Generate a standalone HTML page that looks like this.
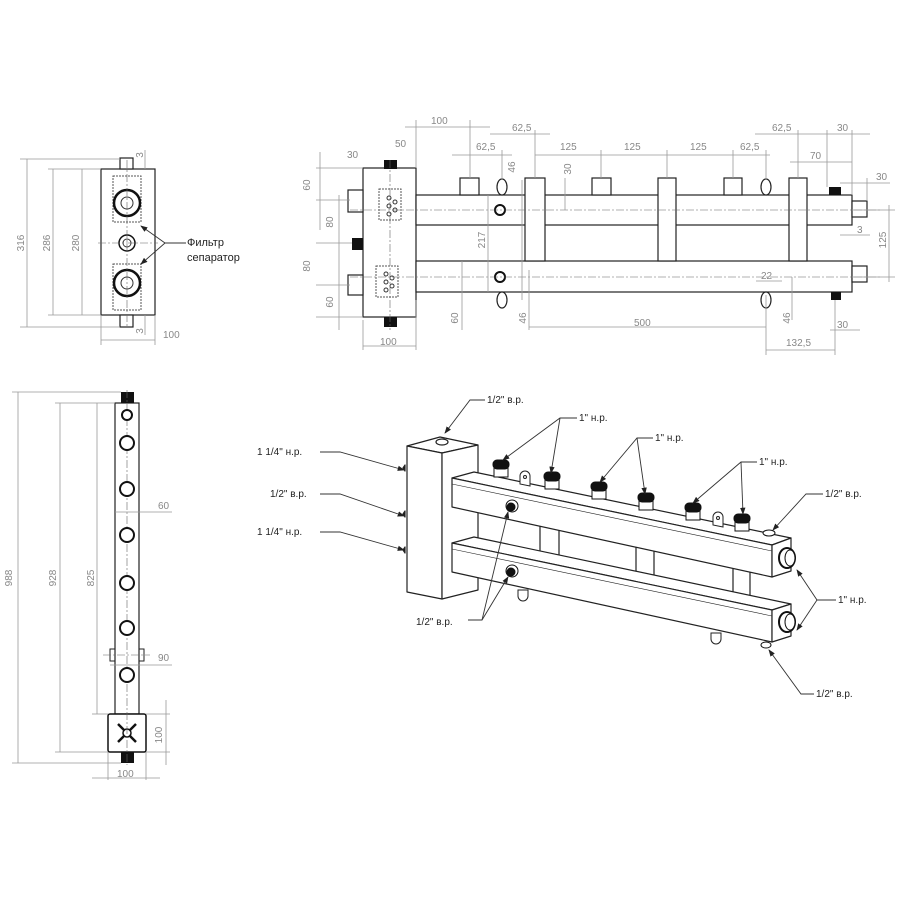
<!DOCTYPE html>
<html><head><meta charset="utf-8"><style>
html,body{margin:0;padding:0;background:#fff}
svg{display:block}
.d{stroke:#999;stroke-width:0.8;fill:none}
.dt{font-family:"Liberation Sans",sans-serif;font-size:10px;fill:#888}
.l{stroke:#222;stroke-width:1.2;fill:#fff}
.k{stroke:#222;stroke-width:1;fill:none}
.c{stroke:#666;stroke-width:0.6;fill:none;stroke-dasharray:8 2 2 2}
.lb{font-family:"Liberation Sans","DejaVu Sans",sans-serif;font-size:10px;fill:#222}
.ld{stroke:#333;stroke-width:0.9;fill:none}
</style></head><body>
<svg width="900" height="900" viewBox="0 0 900 900" xmlns="http://www.w3.org/2000/svg">
<defs><marker id="a" markerWidth="8" markerHeight="6" refX="7" refY="3" orient="auto"><path d="M0,0 L8,3 L0,6 z" fill="#222"/></marker></defs>

<!-- ===== Top-left view ===== -->
<rect x="101" y="169" width="54" height="146" class="l"/>
<rect x="120" y="158" width="13" height="11" class="l"/>
<rect x="120" y="315" width="13" height="12" class="l"/>
<rect x="113" y="176" width="28" height="46" fill="none" stroke="#555" stroke-dasharray="2 1"/>
<rect x="113" y="264" width="28" height="46" fill="none" stroke="#555" stroke-dasharray="2 1"/>
<circle cx="127" cy="203" r="13" fill="none" stroke="#111" stroke-width="2.5"/>
<circle cx="127" cy="203" r="6" fill="none" stroke="#333"/>
<circle cx="127" cy="283" r="13" fill="none" stroke="#111" stroke-width="2.5"/>
<circle cx="127" cy="283" r="6" fill="none" stroke="#333"/>
<circle cx="127" cy="243" r="8" fill="none" stroke="#111" stroke-width="1.5"/>
<circle cx="127" cy="243" r="4" fill="none" stroke="#333"/>
<line x1="98" y1="243" x2="158" y2="243" class="c"/>
<line x1="127" y1="160" x2="127" y2="327" class="c"/>
<line x1="20" y1="159" x2="120" y2="159" class="d"/><line x1="20" y1="327" x2="120" y2="327" class="d"/>
<line x1="27" y1="159" x2="27" y2="327" class="d"/>
<line x1="48" y1="169" x2="101" y2="169" class="d"/><line x1="48" y1="315" x2="101" y2="315" class="d"/>
<line x1="53" y1="169" x2="53" y2="315" class="d"/><line x1="82" y1="169" x2="82" y2="315" class="d"/>
<line x1="145" y1="150" x2="145" y2="169" class="d"/><line x1="145" y1="315" x2="145" y2="335" class="d"/>
<line x1="101" y1="340" x2="155" y2="340" class="d"/><line x1="101" y1="315" x2="101" y2="345" class="d"/><line x1="155" y1="315" x2="155" y2="345" class="d"/>
<text class="dt" transform="translate(24,243) rotate(-90)" text-anchor="middle">316</text>
<text class="dt" transform="translate(50,243) rotate(-90)" text-anchor="middle">286</text>
<text class="dt" transform="translate(79,243) rotate(-90)" text-anchor="middle">280</text>
<text class="dt" transform="translate(143,155) rotate(-90)" text-anchor="middle">3</text>
<text class="dt" transform="translate(143,331) rotate(-90)" text-anchor="middle">3</text>
<text class="dt" x="163" y="338">100</text>
<line x1="165" y1="243" x2="141" y2="226" class="ld" marker-end="url(#a)"/>
<line x1="165" y1="243" x2="141" y2="264" class="ld" marker-end="url(#a)"/>
<line x1="165" y1="243" x2="186" y2="243" class="ld"/>
<text class="lb" x="187" y="246" style="font-size:11px">Фильтр</text>
<text class="lb" x="187" y="261" style="font-size:11px">сепаратор</text>

<!-- ===== Top-right view ===== -->
<rect x="363" y="168" width="53" height="149" class="l"/>
<rect x="384" y="160" width="13" height="9" fill="#111"/>
<rect x="384" y="317" width="13" height="10" fill="#111"/>
<rect x="348" y="190" width="15" height="22" class="l"/>
<rect x="352" y="238" width="11" height="12" fill="#111"/>
<rect x="348" y="275" width="15" height="20" class="l"/>
<rect x="379" y="189" width="22" height="31" fill="none" stroke="#555" stroke-dasharray="2 1"/>
<rect x="376" y="266" width="22" height="31" fill="none" stroke="#555" stroke-dasharray="2 1"/>
<g fill="none" stroke="#333"><circle cx="389" cy="198" r="2"/><circle cx="395" cy="202" r="2"/><circle cx="389" cy="206" r="2"/><circle cx="395" cy="210" r="2"/><circle cx="389" cy="214" r="2"/>
<circle cx="386" cy="274" r="2"/><circle cx="392" cy="278" r="2"/><circle cx="386" cy="282" r="2"/><circle cx="392" cy="286" r="2"/><circle cx="386" cy="290" r="2"/></g>
<rect x="416" y="195" width="436" height="30" class="l"/>
<rect x="416" y="261" width="436" height="31" class="l"/>
<rect x="852" y="201" width="15" height="16" class="l"/>
<rect x="852" y="266" width="15" height="16" class="l"/>
<rect x="460" y="178" width="19" height="17" class="l"/>
<rect x="592" y="178" width="19" height="17" class="l"/>
<rect x="724" y="178" width="18" height="17" class="l"/>
<rect x="525" y="178" width="20" height="83" class="l"/>
<rect x="658" y="178" width="18" height="83" class="l"/>
<rect x="789" y="178" width="18" height="83" class="l"/>
<rect x="829" y="187" width="12" height="8" fill="#111"/>
<rect x="831" y="292" width="10" height="8" fill="#111"/>
<ellipse cx="502" cy="187" rx="5" ry="8" class="l"/><ellipse cx="766" cy="187" rx="5" ry="8" class="l"/>
<ellipse cx="502" cy="300" rx="5" ry="8" class="l"/><ellipse cx="766" cy="300" rx="5" ry="8" class="l"/>
<circle cx="500" cy="210" r="5" fill="none" stroke="#111" stroke-width="2"/>
<circle cx="500" cy="277" r="5" fill="none" stroke="#111" stroke-width="2"/>
<line x1="350" y1="210" x2="880" y2="210" class="c"/>
<line x1="350" y1="277" x2="880" y2="277" class="c"/>
<line x1="390" y1="160" x2="390" y2="330" class="c"/>
<g class="d">
<line x1="316" y1="168" x2="363" y2="168"/><line x1="316" y1="200" x2="350" y2="200"/><line x1="316" y1="243" x2="352" y2="243"/><line x1="316" y1="285" x2="350" y2="285"/><line x1="316" y1="317" x2="363" y2="317"/>
<line x1="320" y1="152" x2="320" y2="230"/><line x1="339" y1="195" x2="339" y2="330"/>
<line x1="363" y1="320" x2="363" y2="350"/><line x1="416" y1="300" x2="416" y2="350"/><line x1="363" y1="346" x2="416" y2="346"/>
<line x1="405" y1="127" x2="490" y2="127"/><line x1="416" y1="120" x2="416" y2="168"/><line x1="470" y1="120" x2="470" y2="178"/>
<line x1="490" y1="134" x2="550" y2="134"/><line x1="535" y1="130" x2="535" y2="178"/>
<line x1="452" y1="155" x2="512" y2="155"/><line x1="502" y1="150" x2="502" y2="180"/>
<line x1="535" y1="155" x2="770" y2="155"/><line x1="601" y1="150" x2="601" y2="178"/><line x1="667" y1="150" x2="667" y2="178"/><line x1="733" y1="150" x2="733" y2="178"/><line x1="766" y1="150" x2="766" y2="180"/>
<line x1="755" y1="134" x2="870" y2="134"/><line x1="798" y1="130" x2="798" y2="178"/><line x1="827" y1="130" x2="827" y2="187"/><line x1="852" y1="130" x2="852" y2="195"/>
<line x1="790" y1="162" x2="852" y2="162"/>
<line x1="840" y1="183" x2="890" y2="183"/><line x1="867" y1="178" x2="867" y2="201"/>
<line x1="840" y1="235" x2="870" y2="235"/>
<line x1="852" y1="210" x2="895" y2="210"/><line x1="852" y1="277" x2="895" y2="277"/><line x1="889" y1="205" x2="889" y2="282"/>
<line x1="488" y1="195" x2="488" y2="292"/><line x1="522" y1="180" x2="522" y2="300"/>
<line x1="462" y1="261" x2="462" y2="330"/><line x1="529" y1="270" x2="529" y2="330"/><line x1="529" y1="327" x2="766" y2="327"/><line x1="766" y1="295" x2="766" y2="355"/>
<line x1="756" y1="281" x2="782" y2="281"/><line x1="792" y1="277" x2="792" y2="320"/>
<line x1="766" y1="350" x2="835" y2="350"/><line x1="835" y1="300" x2="835" y2="355"/><line x1="830" y1="330" x2="860" y2="330"/>
<line x1="565" y1="178" x2="565" y2="210"/>
</g>
<g class="dt">
<text x="431" y="124">100</text><text x="512" y="131">62,5</text><text x="476" y="150">62,5</text>
<text x="560" y="150">125</text><text x="624" y="150">125</text><text x="690" y="150">125</text><text x="740" y="150">62,5</text>
<text x="772" y="131">62,5</text><text x="837" y="131">30</text><text x="810" y="159">70</text><text x="876" y="180">30</text>
<text x="347" y="158">30</text><text x="395" y="147">50</text><text x="857" y="233">3</text><text x="761" y="279">22</text>
<text x="634" y="326">500</text><text x="837" y="328">30</text><text x="786" y="346">132,5</text><text x="380" y="345">100</text>
<text transform="translate(310,185) rotate(-90)" text-anchor="middle">60</text>
<text transform="translate(333,222) rotate(-90)" text-anchor="middle">80</text>
<text transform="translate(310,266) rotate(-90)" text-anchor="middle">80</text>
<text transform="translate(333,302) rotate(-90)" text-anchor="middle">60</text>
<text transform="translate(515,167) rotate(-90)" text-anchor="middle">46</text>
<text transform="translate(571,169) rotate(-90)" text-anchor="middle">30</text>
<text transform="translate(485,240) rotate(-90)" text-anchor="middle">217</text>
<text transform="translate(886,240) rotate(-90)" text-anchor="middle">125</text>
<text transform="translate(458,318) rotate(-90)" text-anchor="middle">60</text>
<text transform="translate(526,318) rotate(-90)" text-anchor="middle">46</text>
<text transform="translate(790,318) rotate(-90)" text-anchor="middle">46</text>
</g>

<!-- ===== Bottom-left view ===== -->
<rect x="115" y="403" width="24" height="311" class="l"/>
<rect x="121" y="392" width="13" height="11" fill="#111"/>
<rect x="108" y="714" width="38" height="38" rx="2" fill="#fff" stroke="#111" stroke-width="1.5"/>
<rect x="121" y="752" width="13" height="11" fill="#111"/>
<line x1="118" y1="724" x2="136" y2="742" stroke="#111" stroke-width="2.5"/><line x1="136" y1="724" x2="118" y2="742" stroke="#111" stroke-width="2.5"/>
<circle cx="127" cy="733" r="4" fill="#fff" stroke="#111" stroke-width="1.5"/>
<line x1="127" y1="390" x2="127" y2="765" class="c"/>
<g fill="#fff" stroke="#111" stroke-width="2"><circle cx="127" cy="415" r="5"/><circle cx="127" cy="443" r="7"/><circle cx="127" cy="489" r="7"/><circle cx="127" cy="535" r="7"/><circle cx="127" cy="583" r="7"/><circle cx="127" cy="628" r="7"/><circle cx="127" cy="675" r="7"/></g>
<rect x="110" y="649" width="5" height="12" class="k"/><rect x="139" y="649" width="5" height="12" class="k"/>
<line x1="103" y1="655" x2="150" y2="655" class="c"/>
<g class="d">
<line x1="12" y1="392" x2="121" y2="392"/><line x1="12" y1="763" x2="121" y2="763"/><line x1="18" y1="392" x2="18" y2="763"/>
<line x1="55" y1="403" x2="115" y2="403"/><line x1="55" y1="752" x2="108" y2="752"/><line x1="60" y1="403" x2="60" y2="752"/>
<line x1="97" y1="403" x2="97" y2="714"/><line x1="92" y1="714" x2="108" y2="714"/>
<line x1="115" y1="512" x2="172" y2="512"/><line x1="110" y1="665" x2="172" y2="665"/>
<line x1="146" y1="714" x2="170" y2="714"/><line x1="146" y1="752" x2="170" y2="752"/><line x1="166" y1="700" x2="166" y2="765"/>
<line x1="108" y1="752" x2="108" y2="780"/><line x1="146" y1="752" x2="146" y2="780"/><line x1="92" y1="778" x2="160" y2="778"/>
</g>
<g class="dt">
<text transform="translate(12,578) rotate(-90)" text-anchor="middle">988</text>
<text transform="translate(56,578) rotate(-90)" text-anchor="middle">928</text>
<text transform="translate(94,578) rotate(-90)" text-anchor="middle">825</text>
<text x="158" y="509">60</text><text x="158" y="661">90</text>
<text transform="translate(162,735) rotate(-90)" text-anchor="middle">100</text>
<text x="117" y="777">100</text>
</g>

<!-- ===== Isometric view ===== -->
<g stroke="#222" stroke-width="1.2" stroke-linejoin="round">
<polygon points="407,446 440,437 478,445 442,453" fill="#fff"/>
<polygon points="407,446 442,453 442,599 407,592" fill="#fff"/>
<polygon points="442,453 478,445 478,590 442,599" fill="#fff"/>
<ellipse cx="442" cy="442" rx="6" ry="3" fill="#fff"/>
<path d="M405,465 l-2,3 l2,3 z M405,511 l-2,3 l2,3 z M405,547 l-2,3 l2,3 z" fill="#111"/>
<!-- connectors between pipes -->
<rect x="540" y="524" width="19" height="34" fill="#fff"/>
<rect x="636" y="545" width="18" height="34" fill="#fff"/>
<rect x="733" y="566" width="17" height="36" fill="#fff"/>
<!-- lower pipe -->
<polygon points="452,543 474,537 791,604 772,610" fill="#fff"/>
<polygon points="452,543 772,610 772,642 452,572" fill="#fff"/>
<polygon points="772,610 791,604 791,636 772,642" fill="#fff"/>
<line x1="452" y1="549" x2="772" y2="616" stroke-width="0.6"/>
<!-- upper pipe -->
<polygon points="452,478 474,472 791,538 772,545" fill="#fff"/>
<polygon points="452,478 772,545 772,577 452,507" fill="#fff"/>
<polygon points="772,545 791,538 791,571 772,577" fill="#fff"/>
<line x1="452" y1="484" x2="772" y2="551" stroke-width="0.6"/>
</g>
<g stroke="#222" stroke-width="1">
<path d="M520,484 v-8 a5,5 0 0 1 10,0 v10 z" fill="#fff"/><circle cx="525" cy="477" r="1.5" fill="none"/>
<path d="M713,525 v-8 a5,5 0 0 1 10,0 v10 z" fill="#fff"/><circle cx="718" cy="518" r="1.5" fill="none"/>
<path d="M518,590 v6 a5,5 0 0 0 10,0 v-6 z" fill="#fff"/>
<path d="M711,633 v6 a5,5 0 0 0 10,0 v-6 z" fill="#fff"/>
</g>
<g stroke="#111" stroke-width="1">
<rect x="494" y="465" width="14" height="12" fill="#fff"/><rect x="493" y="460" width="16" height="9" rx="4" fill="#111"/>
<rect x="545" y="477" width="14" height="12" fill="#fff"/><rect x="544" y="472" width="16" height="9" rx="4" fill="#111"/>
<rect x="592" y="487" width="14" height="12" fill="#fff"/><rect x="591" y="482" width="16" height="9" rx="4" fill="#111"/>
<rect x="639" y="498" width="14" height="12" fill="#fff"/><rect x="638" y="493" width="16" height="9" rx="4" fill="#111"/>
<rect x="686" y="508" width="14" height="12" fill="#fff"/><rect x="685" y="503" width="16" height="9" rx="4" fill="#111"/>
<rect x="735" y="519" width="14" height="12" fill="#fff"/><rect x="734" y="514" width="16" height="9" rx="4" fill="#111"/>
<ellipse cx="769" cy="533" rx="6" ry="3" fill="#fff"/>
<ellipse cx="766" cy="645" rx="5" ry="3" fill="#fff"/>
<circle cx="512" cy="506" r="6" fill="#fff"/><circle cx="511" cy="507" r="4" fill="#111"/>
<circle cx="512" cy="571" r="6" fill="#fff"/><circle cx="511" cy="572" r="4" fill="#111"/>
<ellipse cx="787" cy="558" rx="8" ry="10" fill="#fff" stroke-width="2"/><ellipse cx="790" cy="558" rx="5" ry="8" fill="#fff"/>
<ellipse cx="787" cy="622" rx="8" ry="10" fill="#fff" stroke-width="2"/><ellipse cx="790" cy="622" rx="5" ry="8" fill="#fff"/>
</g>
<!-- leaders -->
<g class="ld">
<polyline points="485,400 470,400 445,433" marker-end="url(#a)"/>
<polyline points="577,418 560,418 503,460" marker-end="url(#a)"/><line x1="560" y1="418" x2="551" y2="473" marker-end="url(#a)"/>
<polyline points="653,438 637,438 600,482" marker-end="url(#a)"/><line x1="637" y1="438" x2="645" y2="494" marker-end="url(#a)"/>
<polyline points="757,462 741,462 693,503" marker-end="url(#a)"/><line x1="741" y1="462" x2="743" y2="514" marker-end="url(#a)"/>
<polyline points="823,494 806,494 773,530" marker-end="url(#a)"/>
<polyline points="836,600 817,600 797,570" marker-end="url(#a)"/><line x1="817" y1="600" x2="797" y2="630" marker-end="url(#a)"/>
<polyline points="814,694 801,694 769,650" marker-end="url(#a)"/>
<polyline points="320,452 340,452 404,470" marker-end="url(#a)"/>
<polyline points="320,494 340,494 404,516" marker-end="url(#a)"/>
<polyline points="320,532 340,532 404,550" marker-end="url(#a)"/>
<polyline points="468,620 482,620 508,577" marker-end="url(#a)"/><line x1="482" y1="620" x2="508" y2="512" marker-end="url(#a)"/>
</g>
<g class="lb">
<text x="487" y="403">1/2" в.р.</text>
<text x="579" y="421">1" н.р.</text>
<text x="655" y="441">1" н.р.</text>
<text x="759" y="465">1" н.р.</text>
<text x="825" y="497">1/2" в.р.</text>
<text x="838" y="603">1" н.р.</text>
<text x="816" y="697">1/2" в.р.</text>
<text x="257" y="455">1 1/4" н.р.</text>
<text x="270" y="497">1/2" в.р.</text>
<text x="257" y="535">1 1/4" н.р.</text>
<text x="416" y="625">1/2" в.р.</text>
</g>
</svg>
</body></html>
